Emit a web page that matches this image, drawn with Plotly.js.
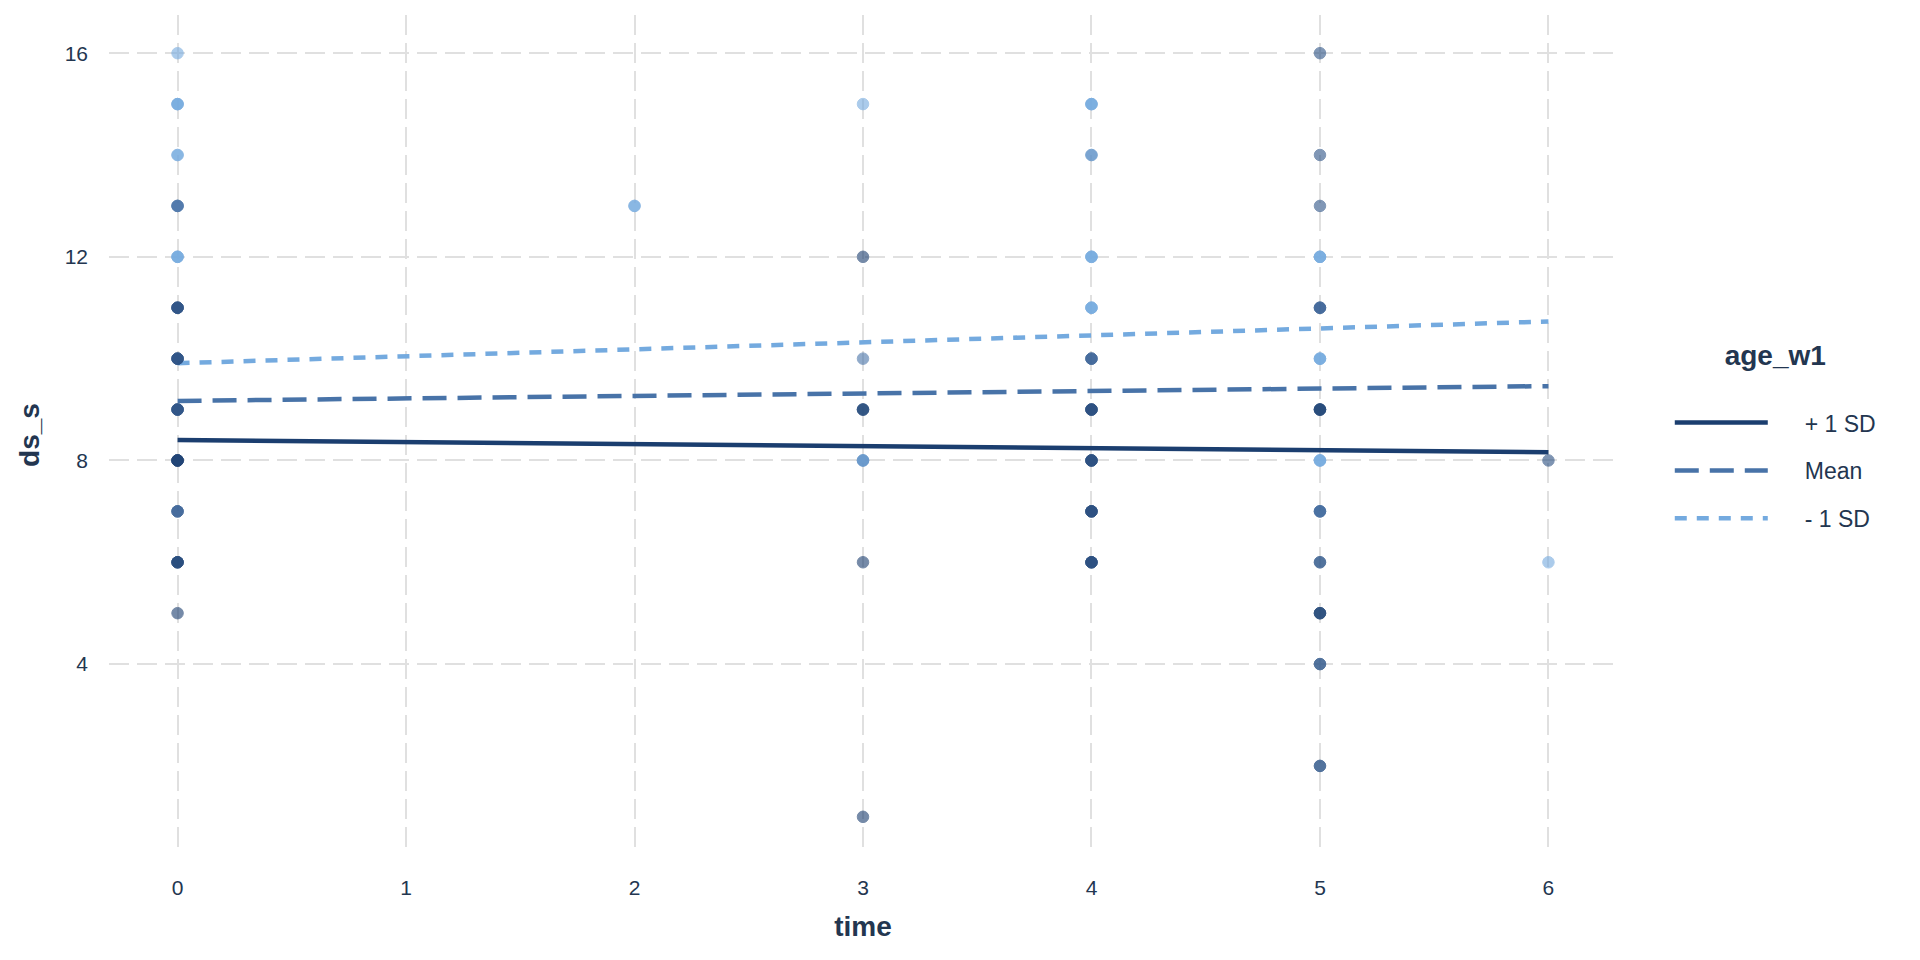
<!DOCTYPE html>
<html>
<head>
<meta charset="utf-8">
<script src="https://cdn.plot.ly/plotly-3.0.1.min.js"></script>
<style>html,body{margin:0;padding:0;background:#fff;}#chart{width:1920px;height:960px;}</style>
</head>
<body>
<div id="chart"></div>
<script>
// Observed points (one entry per plotted location)
const time   = [0,0,0,0,0,0,0,0,0,0,0,0, 2, 3,3,3,3,3,3,3, 4,4,4,4,4,4,4,4,4, 5,5,5,5,5,5,5,5,5,5,5,5,5, 6,6];
const ds_s   = [16,15,14,13,12,11,10,9,8,7,6,5, 13, 15,12,10,9,8,6,1, 15,14,12,11,10,9,8,7,6, 16,14,13,12,11,10,9,8,7,6,5,4,2, 8,6];
// age_w1 (standardised, -1 = -1 SD, +1 = +1 SD) for the observations at each location
const age_w1 = [-1,-1,-1,0,-1,0.6,0.6,0.6,0.9,0.3,0.75,1, -1, -1,1,0,0.75,-0.6,1,1, -1,-0.6,-1,-1,0.3,0.7,0.7,0.7,0.7, 0.6,0.6,0.6,-1,0.3,-1,0.8,-1,0.2,0.5,0.8,0.5,0.5, 0.7,-1];
// number of overlapping observations at each location
const n_obs  = [1,3,2,3,3,4,4,4,5,3,4,1, 2, 1,1,1,3,3,1,1, 3,2,3,3,3,4,4,4,4, 1,1,1,3,3,3,4,3,3,2,3,2,2, 1,1];

// Fitted simple slopes of ds_s on time at levels of age_w1
const lineTime = [0, 6];
const lineLabels = ['+ 1 SD', 'Mean', '- 1 SD'];
const linePlus1SD  = [8.40, 8.16];
const lineMean     = [9.17, 9.46];
const lineMinus1SD = [9.91, 10.73];

const xTicks = [0,1,2,3,4,5,6];
const yTicks = [4,8,12,16];

const txt = '#233650';
const grid = '#e0e0e0';
const cScale = [[0,'#74aadf'],[0.5,'#4873a8'],[1,'#1b3e6f']];

// expand overlapping observations
const px = [], py = [], pc = [];
for (let i = 0; i < time.length; i++) {
  for (let k = 0; k < n_obs[i]; k++) { px.push(time[i]); py.push(ds_s[i]); pc.push(age_w1[i]); }
}

const lineStyles = [
  {color:'#1b3e6f', dash:'solid'},
  {color:'#4873a8', dash:'24px,11px'},
  {color:'#74aadf', dash:'12px,10px'}
];
const lineVals = [linePlus1SD, lineMean, lineMinus1SD];
const gapText = '\u00A0\u00A0\u00A0\u00A0\u00A0';

const traces = lineVals.map((v, i) => ({
  type:'scatter', mode:'lines', x: lineTime, y: v, name: gapText + lineLabels[i],
  legendgroup: 'g' + i,
  line: {color: lineStyles[i].color, width: 4.5, dash: lineStyles[i].dash},
  hoverinfo:'skip'
}));

traces.push({
  type:'scatter', mode:'markers', x: px, y: py, showlegend:false,
  marker:{size:11.5, color: pc, colorscale: cScale, cmin:-1, cmax:1, opacity:0.6,
          line:{width:1, color: pc, colorscale: cScale, cmin:-1, cmax:1}},
  hoverinfo:'skip'
});

const layout = {
  width:1920, height:960,
  paper_bgcolor:'#ffffff', plot_bgcolor:'#ffffff',
  margin:{l:109, r:303, t:15, b:105, pad:0},
  font:{family:'"Liberation Sans", Arial, sans-serif', color: txt, size:21},
  xaxis:{
    range:[-0.3, 6.3], tickvals: xTicks, ticktext: xTicks.map(String),
    showgrid:true, gridcolor: grid, gridwidth:2, griddash:'20px,8px',
    zeroline:false, showline:false, ticks:'', ticklabelstandoff: 18,
    tickfont:{size:21, color: txt},
    title:{text:'<b>time</b>', font:{size:28, color: txt}, standoff: 18}
  },
  yaxis:{
    range:[0.25, 16.75], tickvals: yTicks, ticktext: yTicks.map(String),
    showgrid:true, gridcolor: grid, gridwidth:2, griddash:'20px,8px',
    zeroline:false, showline:false, ticks:'', ticklabelstandoff: 20,
    tickfont:{size:21, color: txt},
    title:{text:'<b>ds_s</b>', font:{size:28, color: txt}, standoff: 16}
  },
  legend:{
    x: 1.035, xanchor:'left', y: 0.627, yanchor:'top',
    title:{text:'<b>age_w1</b><br> ', side:'top center', font:{size:28, color: txt}},
    font:{size:23, color: txt}, itemwidth: 93, tracegroupgap: 15,
    bgcolor:'rgba(0,0,0,0)'
  },
  showlegend:true
};

Plotly.newPlot('chart', traces, layout, {displayModeBar:false, staticPlot:true});
</script>
</body>
</html>
